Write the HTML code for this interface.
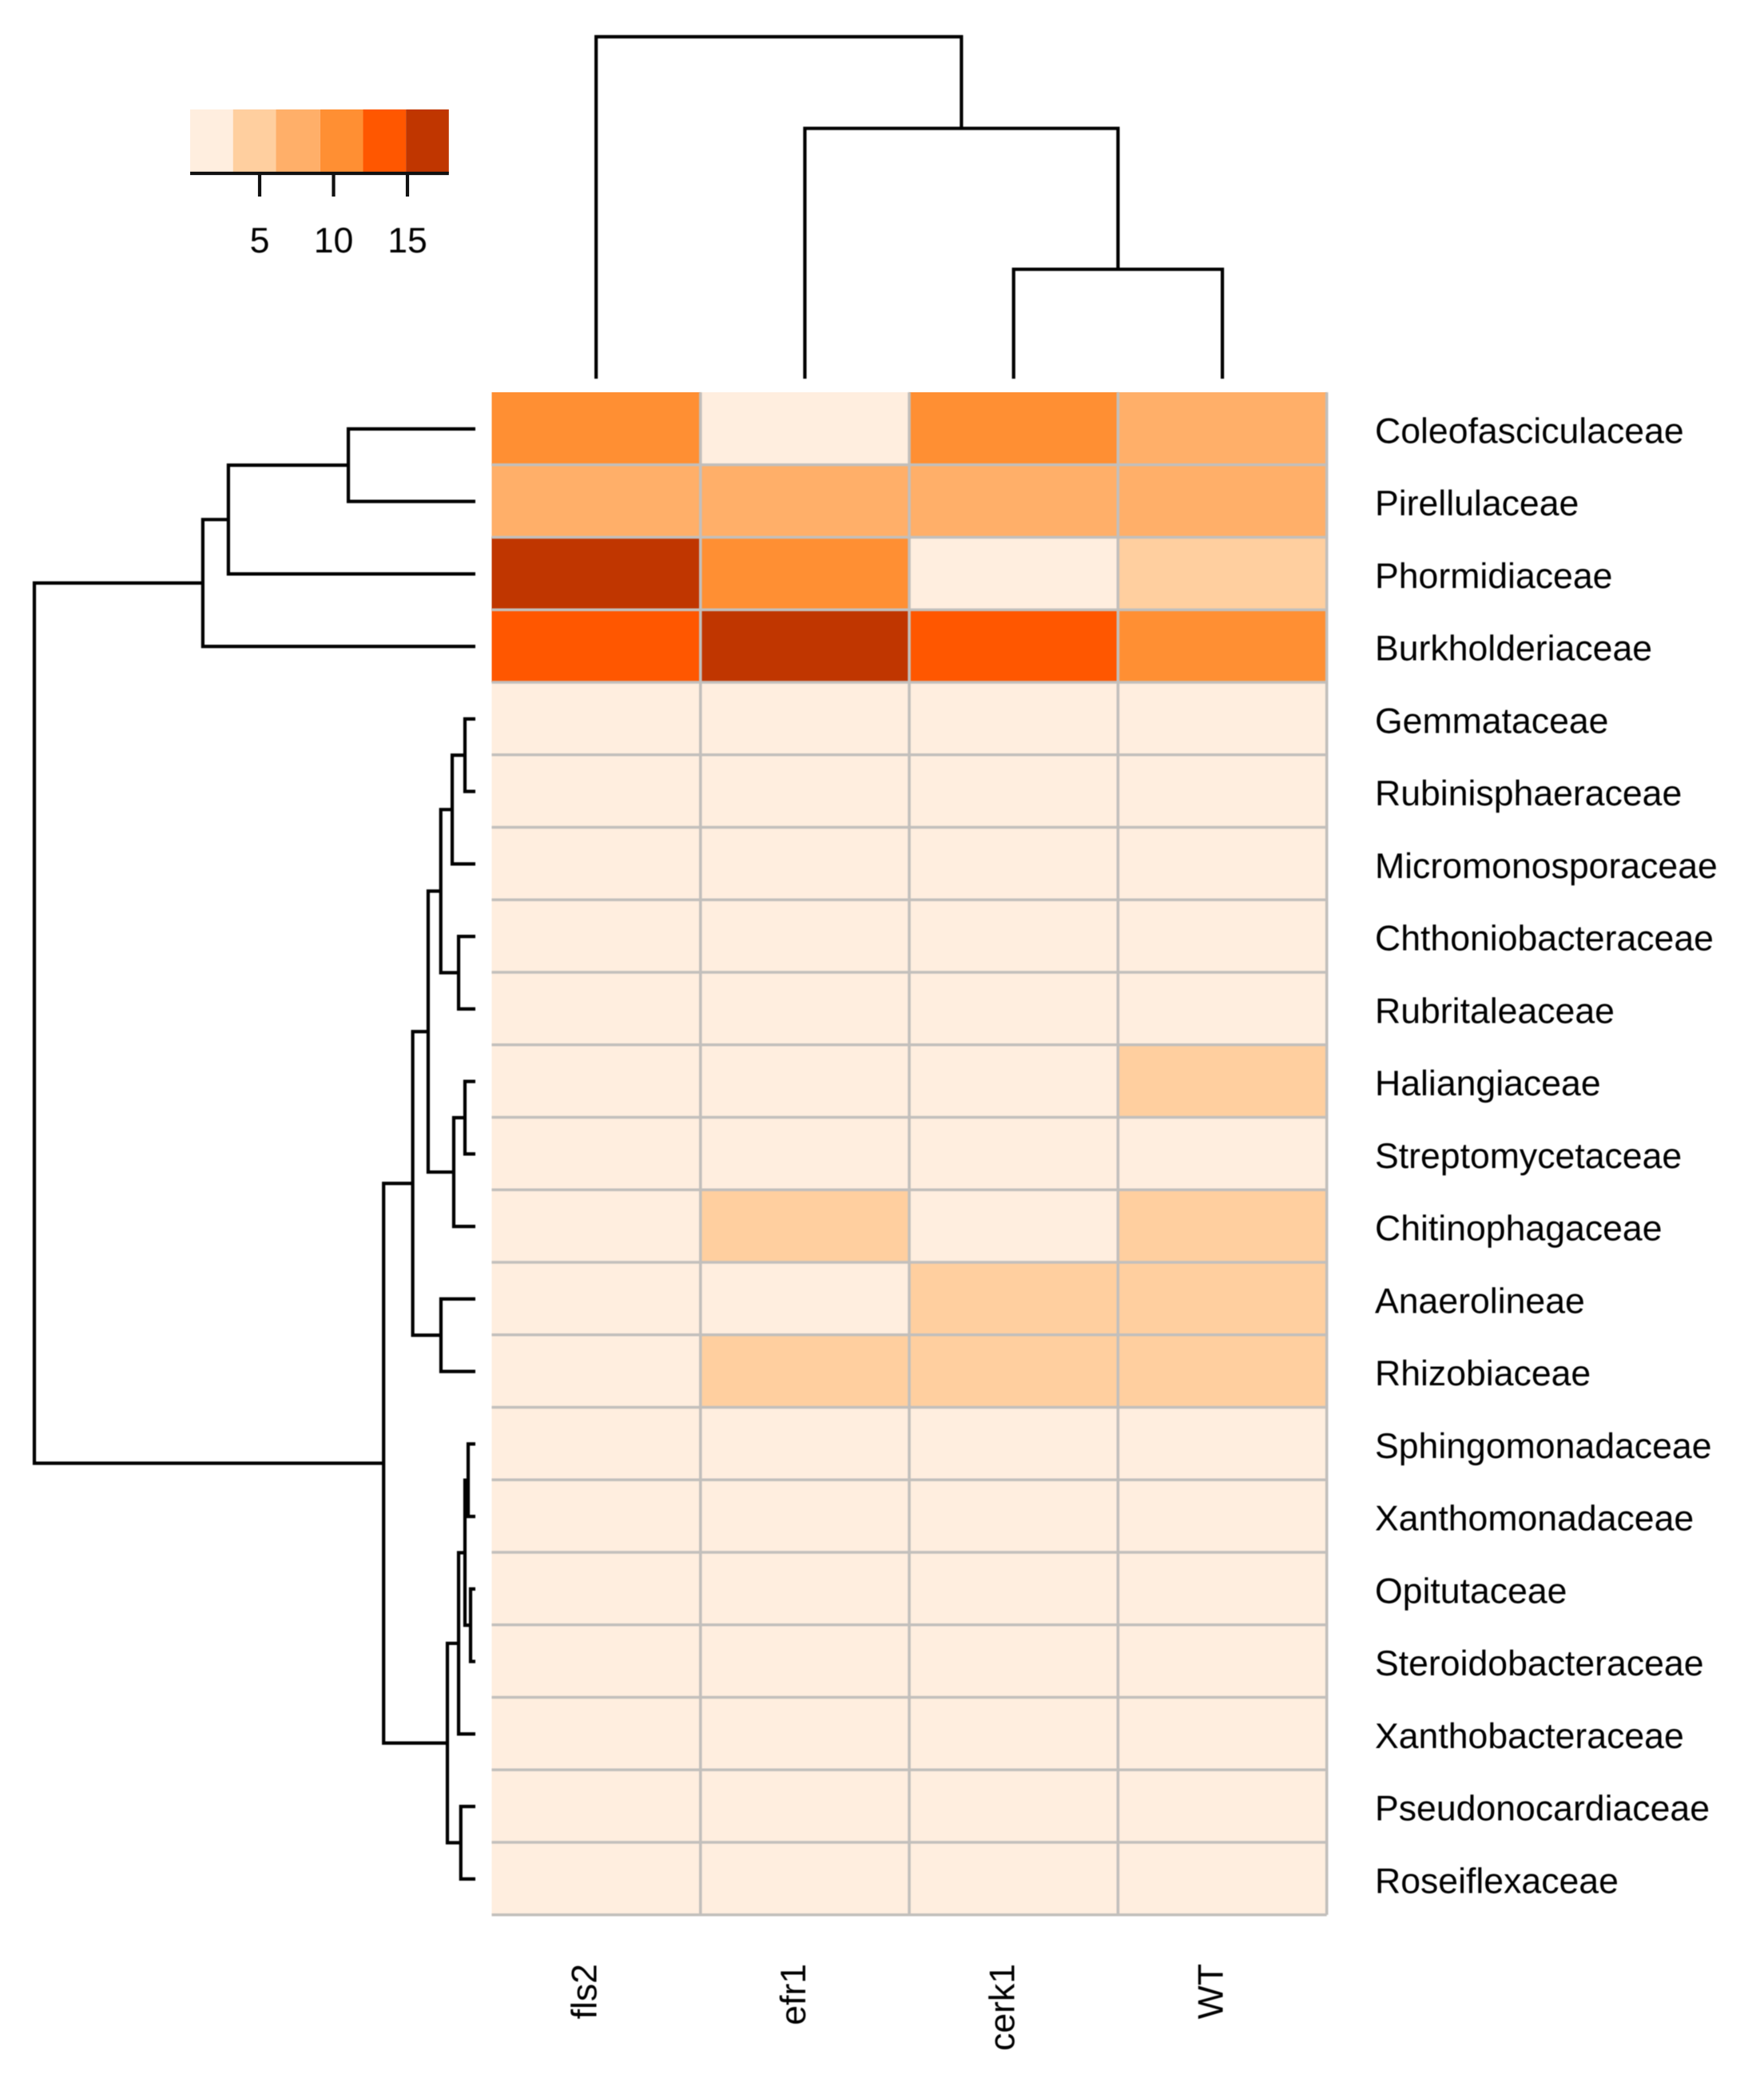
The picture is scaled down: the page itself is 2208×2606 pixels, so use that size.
<!DOCTYPE html>
<html lang="en">
<head>
<meta charset="utf-8">
<title>Family abundance heatmap</title>
<style>
html,body{margin:0;padding:0;background:#fff;}
svg{display:block;}
text{font-family:"Liberation Sans",Arial,sans-serif;font-size:44.6px;fill:#000;text-rendering:geometricPrecision;}
</style>
</head>
<body>
<svg id="chart" xmlns="http://www.w3.org/2000/svg" width="2208" height="2606" viewBox="0 0 2208 2606">
<defs>
<filter id="soft" x="-5%" y="-5%" width="110%" height="110%"><feGaussianBlur stdDeviation="0.6"/></filter>
</defs>
<rect x="0" y="0" width="2208" height="2606" fill="#ffffff"/>
<g id="cells"></g>
<g id="grid" filter="url(#soft)"></g>
<g id="rowDendro" filter="url(#soft)"></g>
<g id="colDendro" filter="url(#soft)"></g>
<g id="legend"></g>
<g id="rowLabels" filter="url(#soft)"></g>
<g id="colLabels" filter="url(#soft)"></g>
</svg>
<script>
// ---------- data ----------
const families = ["Coleofasciculaceae","Pirellulaceae","Phormidiaceae","Burkholderiaceae","Gemmataceae","Rubinisphaeraceae","Micromonosporaceae","Chthoniobacteraceae","Rubritaleaceae","Haliangiaceae","Streptomycetaceae","Chitinophagaceae","Anaerolineae","Rhizobiaceae","Sphingomonadaceae","Xanthomonadaceae","Opitutaceae","Steroidobacteraceae","Xanthobacteraceae","Pseudonocardiaceae","Roseiflexaceae"];
const samples = ["fls2","efr1","cerk1","WT"];
const valuesFls2 = [10.5,8,16.5,13.5,1,1,1,1,1,1,1,1,1,1,1,1,1,1,1,1,1];
const valuesEfr1 = [1,8,10.5,16.5,1,1,1,1,1,1,1,5,1,5,1,1,1,1,1,1,1];
const valuesCerk1 = [10.5,8,1,13.5,1,1,1,1,1,1,1,1,5,5,1,1,1,1,1,1,1];
const valuesWT = [8,8,5,10.5,1,1,1,1,1,5,1,5,5,5,1,1,1,1,1,1,1];
const keyBreaks = [0.3,3.2,6.1,9.1,12,14.9,17.8];
const keyColors = ["#FFEEDF","#FFCF9F","#FFAF69","#FF8F33","#FF5700","#C03600"];
const keyTicks = [5,10,15];
// hclust-style merges: negative = leaf (1-based), positive = earlier merge (1-based)
const rowMergeLeft = [-1,1,-5,3,-8,4,-10,7,6,-13,9,-15,-17,12,14,-20,15,11,2,19];
const rowMergeRight = [-2,-3,-6,-7,-9,5,-11,-12,8,-14,10,-16,-18,13,-19,-21,16,17,-4,18];
const rowMergeHeight = [28.8,56,2.36,5.25,3.8,7.84,2.36,4.9,10.7,7.8,14.2,1.63,1.09,2.36,3.8,3.3,6.34,20.8,61.8,100];
const colMergeLeft = [-3,-2,-1];
const colMergeRight = [-4,1,2];
const colMergeHeight = [32,73.2,100];

// ---------- axis functions ----------
const SVGNS = "http://www.w3.org/2000/svg";
const matrix = [valuesFls2,valuesEfr1,valuesCerk1,valuesWT];
const colLeft = 615.5, colW = 261.3, rowTop = 491, rowH = 90.75;
const colEdge = j => colLeft + colW*j;
const rowEdge = i => rowTop + rowH*i;
const colX = j => colEdge(j + 0.5);
const rowY = i => rowEdge(i + 0.5) + 0.5;
const keyX = v => 325 + (v - 5)*18.5;
const rowDepthX = h => 595 - h*5.52;
const colDepthY = h => 474 - h*4.28;
const colorFor = v => {
  for (let k = 0; k < keyColors.length; k++) { if (v < keyBreaks[k+1]) return keyColors[k]; }
  return keyColors[keyColors.length-1];
};
const mk = (tag, parent) => { const el = document.createElementNS(SVGNS, tag); parent.appendChild(el); return el; };

// ---------- cells ----------
const cellsG = document.getElementById("cells");
samples.forEach((s, j) => {
  families.forEach((f, i) => {
    const r = mk("rect", cellsG);
    r.setAttribute("x", colEdge(j));
    r.setAttribute("y", rowEdge(i));
    r.setAttribute("width", colW);
    r.setAttribute("height", rowH);
    r.setAttribute("fill", colorFor(matrix[j][i]));
    
    
  });
});

// ---------- separators ----------
const gridG = document.getElementById("grid");
for (let j = 1; j <= samples.length; j++) {
  const l = mk("line", gridG);
  l.setAttribute("x1", colEdge(j)); l.setAttribute("x2", colEdge(j));
  l.setAttribute("y1", rowEdge(0)); l.setAttribute("y2", rowEdge(families.length));
  l.setAttribute("stroke", "#c2bfbc"); l.setAttribute("stroke-width", "3.6");
  
  
}
for (let i = 1; i <= families.length; i++) {
  const l = mk("line", gridG);
  l.setAttribute("x1", colEdge(0)); l.setAttribute("x2", colEdge(samples.length));
  l.setAttribute("y1", rowEdge(i)); l.setAttribute("y2", rowEdge(i));
  l.setAttribute("stroke", "#c2bfbc"); l.setAttribute("stroke-width", "3.6");
  
  
}

// ---------- dendrograms ----------
function drawRowTree() {
  const g = document.getElementById("rowDendro");
  const pos = [];
  const info = id => id < 0 ? {y: rowY(-id-1), x: rowDepthX(0)} : pos[id-1];
  rowMergeHeight.forEach((h, m) => {
    const a = info(rowMergeLeft[m]), b = info(rowMergeRight[m]), x = rowDepthX(h);
    const p = mk("path", g);
    p.setAttribute("d", "M" + a.x + " " + a.y + "H" + x + "V" + b.y + "H" + b.x);
    p.setAttribute("fill", "none"); p.setAttribute("stroke", "#000"); p.setAttribute("stroke-width", "4.2");
    
    
    pos.push({x: x, y: (a.y + b.y)/2});
  });
}
function drawColTree() {
  const g = document.getElementById("colDendro");
  const pos = [];
  const info = id => id < 0 ? {x: colX(-id-1), y: colDepthY(0)} : pos[id-1];
  colMergeHeight.forEach((h, m) => {
    const a = info(colMergeLeft[m]), b = info(colMergeRight[m]), y = colDepthY(h);
    const p = mk("path", g);
    p.setAttribute("d", "M" + a.x + " " + a.y + "V" + y + "H" + b.x + "V" + b.y);
    p.setAttribute("fill", "none"); p.setAttribute("stroke", "#000"); p.setAttribute("stroke-width", "4.2");
    
    
    pos.push({x: (a.x + b.x)/2, y: y});
  });
}
drawRowTree();
drawColTree();

// ---------- color key ----------
const legendG = document.getElementById("legend");
keyColors.forEach((c, k) => {
  const r = mk("rect", legendG);
  r.setAttribute("x", keyX(keyBreaks[k]));
  r.setAttribute("y", 137);
  r.setAttribute("width", keyX(keyBreaks[k+1]) - keyX(keyBreaks[k]));
  r.setAttribute("height", 80);
  r.setAttribute("fill", c);
  
  
});
const axisLine = mk("line", legendG);
axisLine.setAttribute("x1", keyX(keyBreaks[0]));
axisLine.setAttribute("x2", keyX(keyBreaks[keyBreaks.length-1]));
axisLine.setAttribute("y1", 217); axisLine.setAttribute("y2", 217);
axisLine.setAttribute("stroke", "#111"); axisLine.setAttribute("stroke-width", "4.2");


keyTicks.forEach(v => {
  const t = mk("line", legendG);
  t.setAttribute("x1", keyX(v)); t.setAttribute("x2", keyX(v));
  t.setAttribute("y1", 217); t.setAttribute("y2", 246);
  t.setAttribute("stroke", "#111"); t.setAttribute("stroke-width", "4.2");
  
  
  const lab = mk("text", legendG);
  lab.setAttribute("x", keyX(v)); lab.setAttribute("y", 316);
  lab.setAttribute("text-anchor", "middle");
  lab.setAttribute("filter", "url(#soft)");
  lab.textContent = String(v);
  
  
});

// ---------- labels ----------
const rowLabG = document.getElementById("rowLabels");
families.forEach((f, i) => {
  const t = mk("text", rowLabG);
  t.setAttribute("x", 1721);
  t.setAttribute("y", rowY(i) + 17.5);
  t.textContent = f;
  
  
});
const colLabG = document.getElementById("colLabels");
samples.forEach((s, j) => {
  const t = mk("text", colLabG);
  const bx = colX(j) + 0.5, by = 2458;
  t.setAttribute("transform", "translate(" + bx + " " + by + ") rotate(-90)");
  t.setAttribute("text-anchor", "end");
  t.textContent = s;
  
  
});
</script>
</body>
</html>
